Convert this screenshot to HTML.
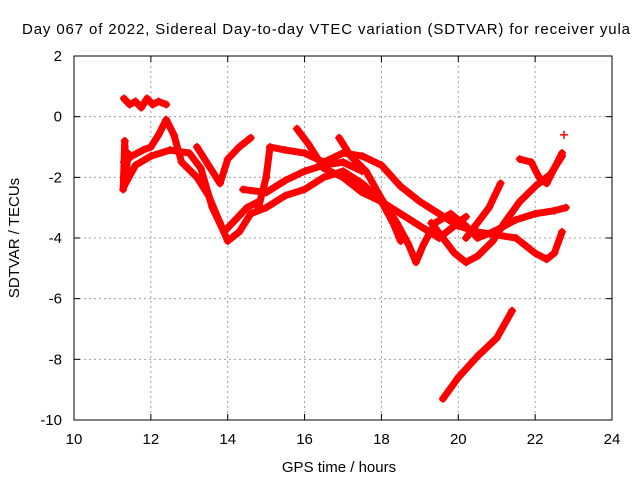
<!DOCTYPE html>
<html><head><meta charset="utf-8"><style>
body{margin:0;background:#fff}
svg{display:block;font-family:"Liberation Sans",sans-serif}
</style></head><body>
<svg id="chart" width="640" height="480">
<text x="326" y="34" font-size="15" text-anchor="middle" textLength="608">Day 067 of 2022, Sidereal Day-to-day VTEC variation (SDTVAR) for receiver yula</text>
<text x="339" y="472" font-size="15" text-anchor="middle">GPS time / hours</text>
<text transform="translate(19,238) rotate(-90)" font-size="15" text-anchor="middle">SDTVAR / TECUs</text>
<g id="grid"></g><g id="axes"></g><g id="marks"></g>
</svg>
<script>
const xTicks=[10,12,14,16,18,20,22,24];
const yTicks=[2,0,-2,-4,-6,-8,-10];
const trackA_x=[11.3,11.45,11.6,11.75,11.9,12.05,12.2,12.4];
const trackA_y=[0.6,0.4,0.5,0.3,0.6,0.4,0.5,0.4];
const trackB_x=[11.3,11.5,11.8,12.0,12.2,12.4,12.6,12.8,13.2,13.5,13.8,14.0,14.3,14.6,15.0,15.5,16.0,16.5,17.0,17.5,18.0,18.3,18.5];
const trackB_y=[-1.5,-1.3,-1.1,-1.0,-0.6,-0.1,-0.6,-1.5,-2.0,-2.6,-3.5,-4.1,-3.8,-3.2,-3.0,-2.6,-2.4,-2.0,-1.8,-2.2,-2.8,-3.5,-4.1];
const trackC_x=[11.3,11.6,12.0,12.5,13.0,13.3,13.6,13.9,14.2,14.5,14.8];
const trackC_y=[-2.3,-1.6,-1.3,-1.1,-1.2,-1.7,-3.0,-3.8,-3.4,-3.0,-2.8];
const trackD_x=[13.2,13.5,13.8,14.0,14.3,14.6];
const trackD_y=[-1.0,-1.6,-2.2,-1.4,-1.0,-0.7];
const trackE_x=[14.8,15.0,15.1,15.5,16.0,16.5,17.0,17.5,18.0,18.5,19.0,19.5,20.0,20.5,21.0,21.5,22.0,22.3,22.5,22.7];
const trackE_y=[-3.0,-2.0,-1.0,-1.1,-1.2,-1.5,-1.2,-1.3,-1.6,-2.3,-2.8,-3.2,-3.6,-3.8,-3.9,-4.0,-4.5,-4.7,-4.5,-3.8];
const trackF_x=[15.8,16.1,16.5,17.0,17.5,18.0,18.5,19.0,19.5,19.8,20.2];
const trackF_y=[-0.4,-0.9,-1.7,-2.0,-2.5,-2.8,-3.2,-3.6,-4.0,-3.7,-3.3];
const trackG_x=[16.9,17.2,17.6,18.0,18.4,18.7,18.9,19.1,19.4,19.8,20.2,20.5,20.9,21.2,21.5,22.0,22.5,22.8];
const trackG_y=[-0.7,-1.3,-1.8,-2.7,-3.5,-4.2,-4.8,-4.2,-3.5,-3.2,-3.6,-4.0,-3.8,-3.6,-3.4,-3.2,-3.1,-3.0];
const trackH_x=[19.3,19.6,19.9,20.2,20.5,20.9,21.2,21.6,22.0,22.4,22.7];
const trackH_y=[-3.5,-4.0,-4.5,-4.8,-4.6,-4.1,-3.5,-2.8,-2.3,-1.9,-1.3];
const trackI_x=[20.2,20.5,20.8,21.1];
const trackI_y=[-4.0,-3.5,-3.0,-2.2];
const trackJ_x=[21.6,21.9,22.1,22.3,22.5,22.7];
const trackJ_y=[-1.4,-1.5,-2.0,-2.2,-1.7,-1.2];
const trackK_x=[19.6,20.0,20.5,21.0,21.4];
const trackK_y=[-9.3,-8.6,-7.9,-7.3,-6.4];
const trackL_x=[14.4,15.0,15.5,16.0,16.5,17.0,17.5];
const trackL_y=[-2.4,-2.5,-2.1,-1.8,-1.6,-1.5,-1.8];
const trackN_x=[11.28,11.32,11.36,11.4];
const trackN_y=[-2.4,-0.8,-1.9,-1.2];
const pointM_x=[22.75];
const pointM_y=[-0.6];

const X0=74,X1=612,Y0=56,Y1=420;
const sx=v=>X0+(v-10)/(24-10)*(X1-X0);
const sy=v=>Y0+(2-v)/(2-(-10))*(Y1-Y0);
const NS="http://www.w3.org/2000/svg";
function mk(tag,attrs,parent){const e=document.createElementNS(NS,tag);for(const k in attrs)e.setAttribute(k,attrs[k]);parent.appendChild(e);return e;}
const grid=document.getElementById('grid'),axes=document.getElementById('axes'),marks=document.getElementById('marks');
xTicks.forEach(t=>{
  const x=sx(t);
  if(t>10&&t<24){const g=mk('line',{x1:x,x2:x,y1:Y0,y2:Y1,stroke:'#a0a0a0','stroke-dasharray':'2,3'},grid);
  
  }
  mk('line',{x1:x,x2:x,y1:Y1,y2:Y1-6,stroke:'#000'},axes);
  mk('line',{x1:x,x2:x,y1:Y0,y2:Y0+6,stroke:'#000'},axes);
  const l=mk('text',{x:x,y:Y1+24,'font-size':15,'text-anchor':'middle'},axes);l.textContent=t;
  
  
});
yTicks.forEach(t=>{
  const y=sy(t);
  if(t<2&&t>-10){const g=mk('line',{x1:X0,x2:X1,y1:y,y2:y,stroke:'#a0a0a0','stroke-dasharray':'2,3'},grid);
  
  }
  mk('line',{x1:X0,x2:X0+6,y1:y,y2:y,stroke:'#000'},axes);
  mk('line',{x1:X1,x2:X1-6,y1:y,y2:y,stroke:'#000'},axes);
  const l=mk('text',{x:X0-12,y:y+5,'font-size':15,'text-anchor':'end'},axes);l.textContent=t;
  
  
});
const frame=mk('rect',{x:X0,y:Y0,width:X1-X0,height:Y1-Y0,fill:'none',stroke:'#000'},axes);


const tracks=[[trackA_x,trackA_y],[trackB_x,trackB_y],[trackC_x,trackC_y],[trackD_x,trackD_y],[trackE_x,trackE_y],[trackF_x,trackF_y],[trackG_x,trackG_y],[trackH_x,trackH_y],[trackI_x,trackI_y],[trackJ_x,trackJ_y],[trackK_x,trackK_y],[trackL_x,trackL_y],[trackN_x,trackN_y],[pointM_x,pointM_y]];
tracks.forEach((tr,i)=>{
  const g=mk('g',{},marks);
  
  
  const pts=tr[0].map((x,j)=>sx(x)+','+sy(tr[1][j])).join(' ');
  if(tr[0].length>1)mk('polyline',{points:pts,fill:'none',stroke:'#f00','stroke-width':7,'stroke-linejoin':'round','stroke-linecap':'round'},g);
  tr[0].forEach((x,j)=>{
    const px=sx(x),py=sy(tr[1][j]);
    const p=mk('path',{d:`M${px-4},${py}h8M${px},${py-4}v8`,stroke:'#f00','stroke-width':1.5},g);
    
    
  });
});
</script>
</body></html>
